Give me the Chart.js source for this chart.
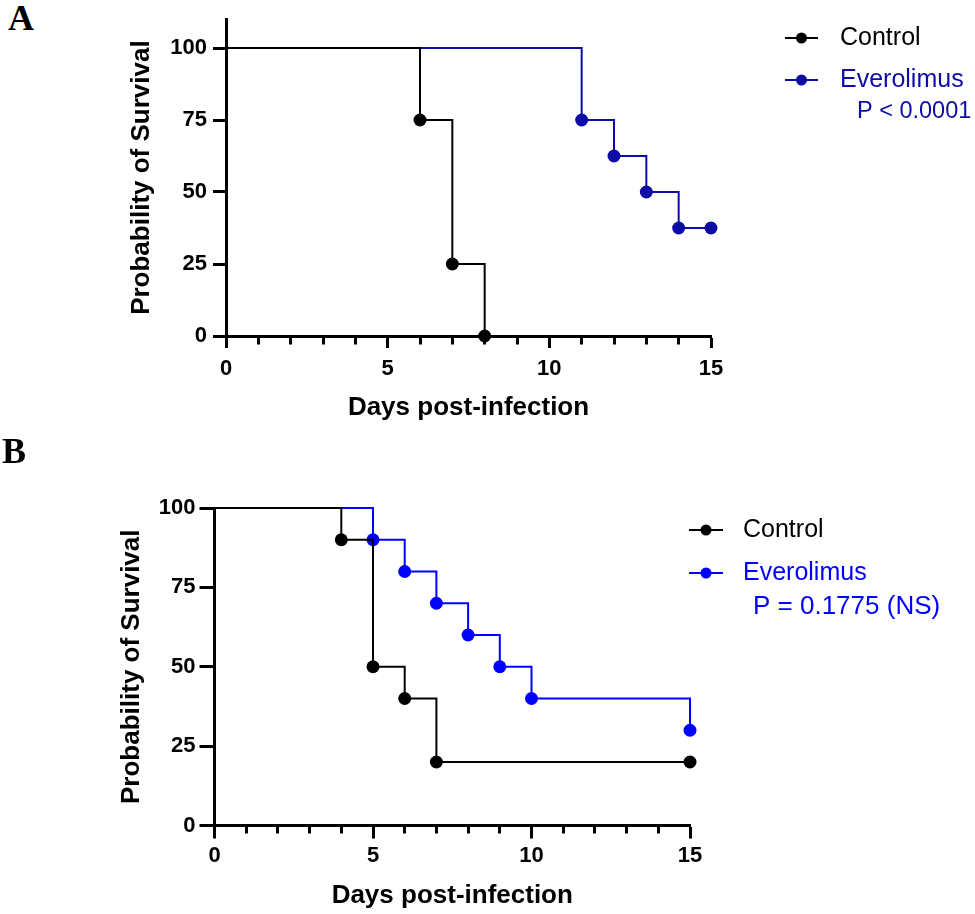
<!DOCTYPE html>
<html>
<head>
<meta charset="utf-8">
<title>Survival curves</title>
<script src="https://cdn.jsdelivr.net/npm/chart.js@4.4.1/dist/chart.umd.min.js"></script>
<style>
  body { margin: 0; background: #fff; }
  #wrap { position: relative; width: 975px; height: 914px; }
  canvas { position: absolute; left: 0; }
  .panel-letter {
    position: absolute;
    font-family: "Liberation Serif", "Times New Roman", serif;
    font-weight: bold;
    font-size: 36px;
    line-height: 36px;
  }
</style>
</head>
<body>
<div id="wrap">
  <div class="panel-letter" style="left:8px; top:0px;">A</div>
  <canvas id="chartA" width="975" height="440" style="top:0px"></canvas>
  <div class="panel-letter" style="left:2px; top:433px;">B</div>
  <canvas id="chartB" width="975" height="474" style="top:440px"></canvas>
</div>

<script>
// Panel A data (Kaplan-Meier steps)
const daysA_control = [0, 6, 7, 8];
const survA_control = [100, 75, 25, 0];
const daysA_evero = [0, 11, 12, 13, 14, 15];
const survA_evero = [100, 75, 62.5, 50, 37.5, 37.5];

// Panel B data
const daysB_control = [0, 4, 5, 6, 7, 15];
const survB_control = [100, 90, 50, 40, 20, 20];
const daysB_evero = [0, 5, 6, 7, 8, 9, 10, 15];
const survB_evero = [100, 90, 80, 70, 60, 50, 40, 30];

const groupNames = ["Control", "Everolimus"];
const yTicks = [0, 25, 50, 75, 100];
const xTickLabels = [0, 5, 10, 15];
const pValueA = "P < 0.0001";
const pValueB = "P = 0.1775 (NS)";

Chart.defaults.font.family = "'Liberation Sans', Arial, sans-serif";
Chart.defaults.color = "#000";

// draws the little line+dot legend and the p value under it
const kmLegend = {
  id: "kmLegend",
  afterDraw(chart, args, opts) {
    const ctx = chart.ctx;
    ctx.save();
    ctx.textBaseline = "middle";
    ctx.textAlign = "left";
    chart.data.datasets.forEach((ds, i) => {
      const y = opts.y + i * opts.rowGap;
      ctx.strokeStyle = ds.borderColor;
      ctx.fillStyle = ds.borderColor;
      ctx.lineWidth = 2;
      ctx.beginPath();
      ctx.moveTo(opts.x, y);
      ctx.lineTo(opts.x + opts.lineLen, y);
      ctx.stroke();
      ctx.beginPath();
      ctx.arc(opts.x + opts.lineLen / 2, y, 5.5, 0, Math.PI * 2);
      ctx.fill();
      ctx.font = opts.font;
      ctx.fillText(ds.label, opts.textX, y);
    });
    ctx.fillStyle = opts.noteColor;
    ctx.font = opts.noteFont;
    ctx.fillText(opts.note, opts.noteX, opts.noteY);
    ctx.restore();
  },
};

function toPoints(days, surv) {
  return days.map((d, i) => ({ x: d, y: surv[i] }));
}

function makeKM(id, cfg) {
  const ctx = document.getElementById(id).getContext("2d");
  const series = (label, data, color) => ({
    label: label,
    data: data,
    stepped: "before",
    borderColor: color,
    backgroundColor: color,
    borderWidth: 2,
    pointRadius: (c) => (c.dataIndex === 0 ? 0 : 6.5),
    pointBorderWidth: 0,
    pointHoverRadius: 0,
    clip: false,
  });

  return new Chart(ctx, {
    type: "line",
    data: {
      datasets: [
        series(groupNames[0], cfg.control, "#000000"),
        series(groupNames[1], cfg.evero, cfg.blue),
      ],
    },
    options: {
      responsive: false,
      animation: false,
      events: [],
      layout: { padding: { top: cfg.top, right: cfg.right, left: 0, bottom: 0 } },
      plugins: {
        legend: { display: false },
        tooltip: { enabled: false },
        kmLegend: cfg.legend,
      },
      scales: {
        x: {
          type: "linear",
          min: 0,
          max: 15,
          afterFit: (s) => { s.height = cfg.xHeight; },
          afterBuildTicks: (s) => {
            s.ticks = [];
            for (let v = 0; v <= 15; v++) s.ticks.push({ value: v });
          },
          ticks: {
            autoSkip: false,
            maxRotation: 0,
            padding: cfg.xTickPad,
            font: { size: 22, weight: "bold" },
            callback: (v) => (xTickLabels.includes(v) ? String(v) : ""),
          },
          grid: {
            drawOnChartArea: false,
            tickLength: cfg.xTickLen,
            tickWidth: 3,
            tickColor: "#000",
            tickBorderDash: (c) => (c.tick && c.tick.value % 5 === 0 ? [] : [6.5, 100]),
          },
          border: { display: true, width: 3, color: "#000" },
          title: {
            display: true,
            text: "Days post-infection",
            font: { size: 26, weight: "bold" },
            padding: { top: 0, bottom: cfg.xTitlePad },
          },
        },
        y: {
          min: 0,
          max: cfg.yMax,
          afterFit: (s) => { s.width = cfg.yWidth; },
          afterBuildTicks: (s) => {
            s.ticks = yTicks.map((v) => ({ value: v }));
          },
          ticks: {
            padding: cfg.yTickPad,
            font: { size: 22, weight: "bold" },
          },
          grid: {
            drawOnChartArea: false,
            tickLength: cfg.yTickLen,
            tickWidth: 3,
            tickColor: "#000",
          },
          border: { display: true, width: 3, color: "#000" },
          title: {
            display: true,
            text: "Probability of Survival",
            font: { size: 26, weight: "bold" },
            padding: { top: cfg.yTitlePad, bottom: 0 },
          },
        },
      },
    },
    plugins: [kmLegend],
  });
}

makeKM("chartA", {
  control: toPoints(daysA_control, survA_control),
  evero: toPoints(daysA_evero, survA_evero),
  blue: "#0d0da6",
  yMax: 110,
  top: 14,
  right: 264,
  yWidth: 226,
  xHeight: 104,
  xTickLen: 12,
  xTickPad: 8,
  yTickLen: 13,
  yTickPad: 6,
  xTitlePad: 17,
  yTitlePad: 126,
  legend: {
    x: 785, lineLen: 33, textX: 840, y: 38, rowGap: 42,
    font: "25px 'Liberation Sans', Arial, sans-serif",
    note: pValueA, noteX: 857, noteY: 112, noteColor: "#0d0da6",
    noteFont: "23.5px 'Liberation Sans', Arial, sans-serif",
  },
});

makeKM("chartB", {
  control: toPoints(daysB_control, survB_control),
  evero: toPoints(daysB_evero, survB_evero),
  blue: "#0000ff",
  yMax: 100,
  top: 68,
  right: 285,
  yWidth: 214.5,
  xHeight: 88.5,
  xTickLen: 13,
  xTickPad: 4,
  yTickLen: 15,
  yTickPad: 4,
  xTitlePad: 3,
  yTitlePad: 116,
  legend: {
    x: 689, lineLen: 34, textX: 743, y: 90, rowGap: 43,
    font: "25px 'Liberation Sans', Arial, sans-serif",
    note: pValueB, noteX: 753, noteY: 167, noteColor: "#0000ff",
    noteFont: "26px 'Liberation Sans', Arial, sans-serif",
  },
});
</script>
</body>
</html>
